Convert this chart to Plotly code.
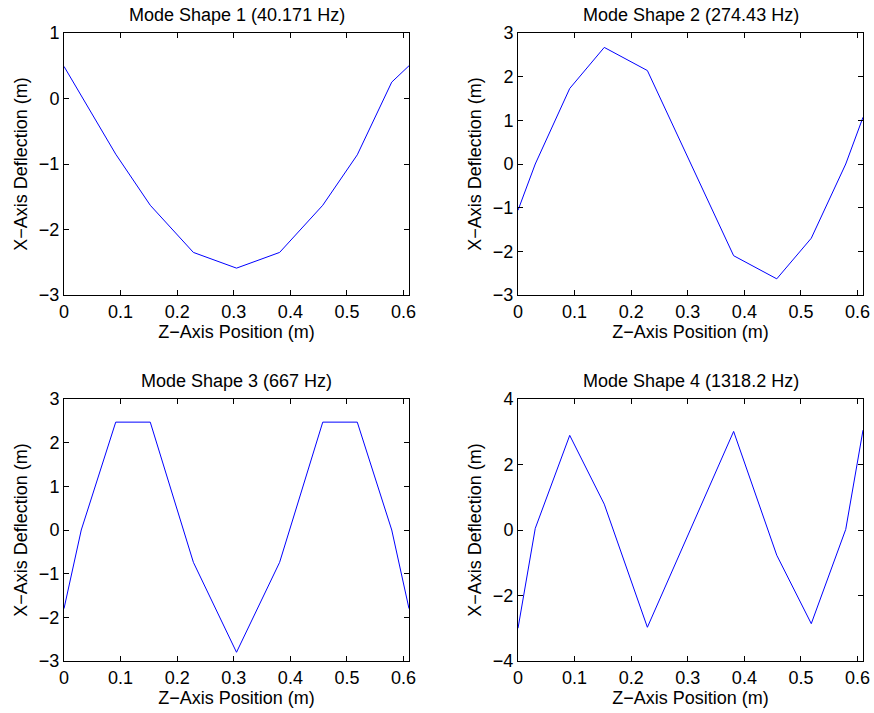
import plotly.graph_objects as go

z = [0, 0.0305, 0.0914, 0.1524, 0.2286, 0.3048, 0.3810, 0.4572, 0.5182, 0.5791, 0.6096]
mode1 = [0.49, 0.05, -0.85, -1.63, -2.35, -2.59, -2.35, -1.63, -0.86, 0.25, 0.50]
mode2 = [-1.06, 0.00, 1.73, 2.67, 2.14, 0.02, -2.10, -2.63, -1.70, 0.00, 1.07]
mode3 = [-1.80, 0.00, 2.47, 2.47, -0.74, -2.80, -0.74, 2.47, 2.47, 0.00, -1.80]
mode4 = [-3.00, 0.05, 2.89, 0.79, -2.97, 0.00, 3.01, -0.77, -2.86, 0.02, 3.05]

titles = ["Mode Shape 1 (40.171 Hz)", "Mode Shape 2 (274.43 Hz)",
          "Mode Shape 3 (667 Hz)", "Mode Shape 4 (1318.2 Hz)"]
xlabel = "Z\u2212Axis Position (m)"
ylabel = "X\u2212Axis Deflection (m)"
yranges = [[-3, 1], [-3, 3], [-3, 3], [-4, 4]]
ydticks = [1, 1, 1, 2]
xticks = [0, 0.1, 0.2, 0.3, 0.4, 0.5, 0.6]

W, H = 874, 713
xdoms = [[64 / W, 409 / W], [518 / W, 863 / W]]
ydoms = [[1 - 295 / H, 1 - 33 / H], [1 - 661 / H, 1 - 399 / H]]

fig = go.Figure()
font = "Liberation Sans, Arial, Helvetica, sans-serif"
FS = 18
data = [mode1, mode2, mode3, mode4]
for i, ys in enumerate(data):
    r, c = divmod(i, 2)
    n = "" if i == 0 else str(i + 1)
    fig.add_trace(go.Scatter(x=z, y=ys, mode="lines",
                             line=dict(color="#0000ff", width=1),
                             xaxis="x" + n, yaxis="y" + n, showlegend=False))
    common = dict(showline=True, linecolor="black", linewidth=1, mirror="allticks",
                  ticks="inside", ticklen=5, tickcolor="black", tickwidth=1,
                  showgrid=False, zeroline=False, automargin=False,
                  tickfont=dict(family=font, size=FS, color="black"))
    fig.layout["xaxis" + n] = dict(domain=xdoms[c], anchor="y" + n, range=[0, 0.6096],
                                   tickvals=xticks, ticktext=[("%g" % t) for t in xticks],
                                   title=dict(text=xlabel, standoff=0,
                                              font=dict(family=font, size=FS, color="black")),
                                   **common)
    fig.layout["yaxis" + n] = dict(domain=ydoms[r], anchor="x" + n, range=yranges[i],
                                   dtick=ydticks[i], tick0=0,
                                   title=dict(text=ylabel, standoff=6,
                                              font=dict(family=font, size=FS, color="black")),
                                   **common)
    fig.add_annotation(text=titles[i], xref="x" + n + " domain", yref="y" + n + " domain",
                       x=0.5, y=1.0, yshift=6, xanchor="center", yanchor="bottom",
                       showarrow=False, font=dict(family=font, size=FS, color="black"))

fig.update_layout(width=W, height=H, margin=dict(l=0, r=0, t=0, b=0),
                  plot_bgcolor="white", paper_bgcolor="white")
fig.write_html("out.html")
